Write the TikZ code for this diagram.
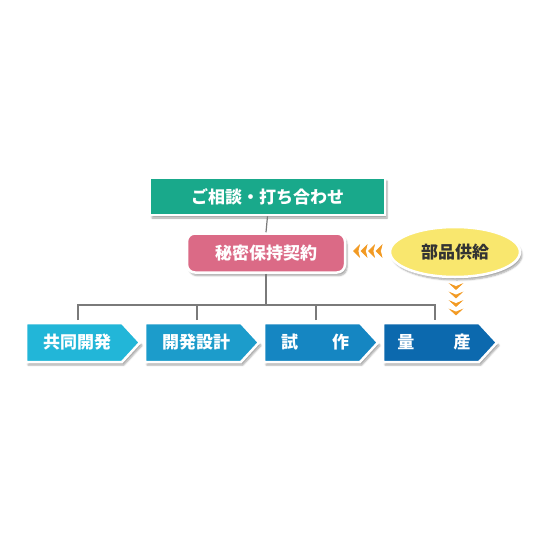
\documentclass[tikz,border=0pt]{standalone}
\usepackage{fontspec}
\newfontfamily\cjk{Noto Sans CJK JP}
\usetikzlibrary{shapes.geometric,shadows.blur}
\definecolor{cgreen}{HTML}{19A98B}
\definecolor{cpink}{HTML}{DB6A86}
\definecolor{cyellow}{HTML}{F9E76E}
\definecolor{corange}{HTML}{F29A23}
\definecolor{ca}{HTML}{22B6D8}
\definecolor{cb}{HTML}{1C9CCB}
\definecolor{cc}{HTML}{1586C2}
\definecolor{cd}{HTML}{0C69AE}
\definecolor{cline}{HTML}{7A7A7A}
\tikzset{
  lbl/.style={text=white,font=\cjk\bfseries\fontsize{17}{17}\selectfont,inner sep=0pt},
  boxshadow/.style={blur shadow={shadow xshift=2pt,shadow yshift=-3pt,shadow blur steps=6,shadow opacity=35}},
  conn/.style={draw=cline,line width=1.2pt},
  chev/.style={fill=corange,draw=corange,line width=0.6pt,line join=miter},
}
\newcommand{\procarrow}[4]{%
  \fill[#2,draw=white,line width=2.5pt,boxshadow] (#1,323) -- (#1+96,323) -- (#1+114,342.5) -- (#1+96,362) -- (#1,362) -- cycle;
  \node[lbl] (#3) at (#1+51,342.5) {#4};
  \coordinate (#3top) at (#1+52,320);
}
\begin{document}
\begin{tikzpicture}[x=1pt,y=-1pt]
\useasboundingbox (0,0) rectangle (560,560);
% top box
\node[lbl,fill=cgreen,draw=white,line width=2.5pt,minimum width=235pt,minimum height=37pt,boxshadow] (soudan) at (267.5,196.5) {ご相談・打ち合わせ};
% pink
\node[lbl,fill=cpink,draw=white,line width=2.5pt,rounded corners=8pt,minimum width=158pt,minimum height=39pt,boxshadow] (himitsu) at (266,253) {秘密保持契約};
% ellipse
\node[ellipse,fill=cyellow,draw=white,line width=2.5pt,minimum width=130pt,minimum height=50pt,inner sep=0pt,boxshadow,text=black!80,font=\cjk\bfseries\fontsize{17}{17}\selectfont] (buhin) at (455,252) {部品供給};
% arrows
\procarrow{26}{ca}{kyodo}{共同開発}
\procarrow{145}{cb}{sekkei}{開発設計}
\procarrow{264}{cc}{shisaku}{試\hspace{2em}作}
\procarrow{383}{cd}{ryosan}{量\hspace{2.3em}産}
% connectors
\coordinate (bus) at (266,305);
\draw[conn] (soudan.south) -- (himitsu.north);
\draw[conn] (himitsu.south) -- (bus);
\draw[conn] (kyodotop) |- (bus) -| (ryosantop);
\draw[conn] (sekkeitop) -- (sekkeitop |- bus);
\draw[conn] (shisakutop) -- (shisakutop |- bus);
% left chevrons
\foreach \i in {0,1,2,3}{
  \filldraw[chev] (353.5+7.5*\i,251) -- (359.5+7.5*\i,245) -- (358+7.5*\i,251) -- (359.5+7.5*\i,257) -- cycle;
}
% down chevrons
\foreach \i in {0,1,2,3}{
  \filldraw[chev] (456,289.5+8.5*\i) -- (450,284+8.5*\i) -- (456,286.5+8.5*\i) -- (462,284+8.5*\i) -- cycle;
}
\end{tikzpicture}
\end{document}
